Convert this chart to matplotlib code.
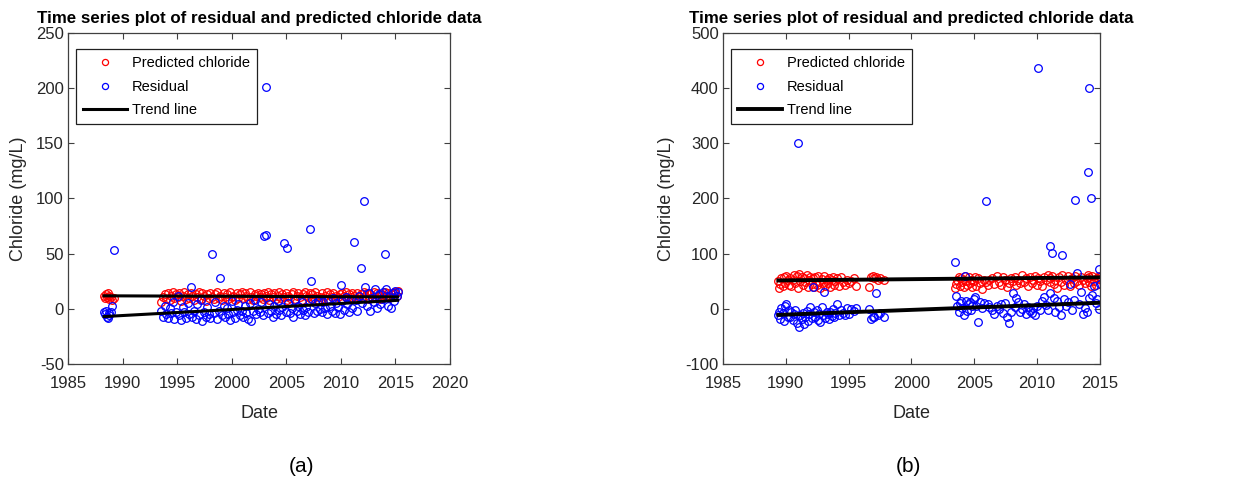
import matplotlib
matplotlib.use('Agg')
import matplotlib.pyplot as plt

plt.rcParams['font.family'] = ['Liberation Sans', 'DejaVu Sans']
plt.rcParams['axes.unicode_minus'] = False

TITLE = 'Time series plot of residual and predicted chloride data'

# ---- panel (a) ----
dates_a = [1988.30, 1988.38, 1988.46, 1988.55, 1988.63, 1988.72, 1988.80, 1988.90, 1989.05, 1989.20,
           1993.55, 1993.70, 1993.85, 1994.00, 1994.15, 1994.30, 1994.45, 1994.60, 1994.75, 1994.90,
           1995.05, 1995.20, 1995.35, 1995.50, 1995.65, 1995.80, 1995.95, 1996.10, 1996.25, 1996.40,
           1996.55, 1996.70, 1996.85, 1997.00, 1997.15, 1997.30, 1997.45, 1997.60, 1997.75, 1997.90,
           1998.05, 1998.20, 1998.35, 1998.50, 1998.65, 1998.80, 1998.95, 1999.10, 1999.25, 1999.40,
           1999.55, 1999.70, 1999.85, 2000.00, 2000.15, 2000.30, 2000.45, 2000.60, 2000.75, 2000.90,
           2001.05, 2001.20, 2001.35, 2001.50, 2001.65, 2001.80, 2001.95, 2002.10, 2002.25, 2002.40,
           2002.55, 2002.70, 2002.85, 2003.00, 2003.10, 2003.15, 2003.30, 2003.45, 2003.60, 2003.75,
           2003.90, 2004.05, 2004.20, 2004.35, 2004.50, 2004.65, 2004.80, 2004.95, 2005.05, 2005.20,
           2005.35, 2005.50, 2005.65, 2005.80, 2005.95, 2006.10, 2006.25, 2006.40, 2006.55, 2006.70,
           2006.85, 2007.00, 2007.15, 2007.22, 2007.35, 2007.50, 2007.65, 2007.80, 2007.95, 2008.10,
           2008.25, 2008.40, 2008.55, 2008.70, 2008.85, 2009.00, 2009.15, 2009.30, 2009.45, 2009.60,
           2009.75, 2009.90, 2010.00, 2010.15, 2010.30, 2010.45, 2010.60, 2010.75, 2010.90, 2011.05,
           2011.20, 2011.35, 2011.50, 2011.65, 2011.80, 2011.95, 2012.10, 2012.25, 2012.40, 2012.55,
           2012.70, 2012.85, 2013.00, 2013.15, 2013.30, 2013.45, 2013.60, 2013.75, 2013.90, 2014.05,
           2014.15, 2014.30, 2014.45, 2014.60, 2014.75, 2014.90, 2015.00, 2015.10, 2015.20]
pred_a = [12, 10, 13, 11, 14, 9, 12, 11, 8, 10,
          6, 11, 13, 9, 14, 8, 12, 15, 10, 13,
          11, 14, 7, 12, 15, 9, 13, 10, 14, 12,
          8, 13, 11, 15, 9, 14, 12, 7, 13, 10,
          14, 11, 9, 13, 15, 10, 12, 8, 14, 11,
          13, 9, 15, 11, 12, 8, 14, 10, 13, 15,
          10, 14, 12, 9, 15, 11, 8, 13, 12, 14,
          11, 13, 9, 14, 12, 10, 15, 8, 13, 11,
          14, 9, 12, 15, 10, 13, 11, 14, 8, 12,
          10, 13, 15, 9, 12, 14, 11, 8, 13, 15,
          12, 11, 14, 9, 13, 10, 15, 12, 8, 11,
          14, 10, 12, 15, 9, 13, 11, 14, 8, 12,
          11, 13, 9, 14, 12, 15, 10, 13, 11, 14,
          12, 9, 14, 11, 13, 10, 15, 12, 14, 9,
          13, 11, 15, 10, 14, 12, 9, 13, 11, 15,
          12, 14, 10, 13, 11, 15, 14, 12, 16]
resid_a = [-3, -5, -2, -7, -8, -4, -6, -3, 3, 53,
           -2, -7, 3, -5, -8, 1, -4, 6, -9, -3,
           12, -6, -10, 2, -3, -8, 5, -5, 20, -7,
           -2, -9, 4, -6, 8, -11, -3, -7, 2, -5,
           -8, 50, -4, 6, -9, -2, 28, -6, 3, -7,
           1, -5, -10, 7, -3, -8, -1, 4, -6, -2,
           -7, 3, -4, -9, 5, -11, -2, 8, -5, 0,
           -3, 6, -6, 66, 201, 67, -4, 4, -2, -7,
           3, -5, 7, -1, -6, 2, 60, -3, 55, 5,
           -4, 1, -7, 8, -2, 3, -5, 6, -1, -6,
           2, -3, 72, 25, 9, -4, 5, -2, 7, 0,
           -3, 6, 1, -5, 8, 3, -2, 10, -4, 5,
           2, -5, 22, 7, -1, 11, 4, -3, 9, 1,
           61, 8, -2, 12, 37, 5, 98, 20, 3, 14,
           -2, 10, 6, 18, 1, 13, 4, 9, 15, 50,
           18, 3, 11, 1, 14, 7, 16, 12, 15]
trend_x_a = [1988.3, 2015.2]
trend_pred_a = [11.8, 10.8]
trend_resid_a = [-7.0, 7.7]

# ---- panel (b) ----
dates_b = [1989.35, 1989.45, 1989.55, 1989.65, 1989.75, 1989.85, 1989.95, 1990.05, 1990.15, 1990.25,
           1990.35, 1990.45, 1990.55, 1990.65, 1990.75, 1990.85, 1990.95, 1991.05, 1991.15, 1991.25,
           1991.35, 1991.45, 1991.55, 1991.65, 1991.75, 1991.85, 1991.95, 1992.05, 1992.15, 1992.25,
           1992.35, 1992.45, 1992.55, 1992.65, 1992.75, 1992.85, 1992.95, 1993.05, 1993.15, 1993.25,
           1993.35, 1993.45, 1993.55, 1993.65, 1993.75, 1993.85, 1993.95, 1994.10, 1994.25, 1994.40,
           1994.55, 1994.70, 1994.85, 1995.00, 1995.20, 1995.40, 1995.60, 1996.60, 1996.75, 1996.90,
           1997.05, 1997.20, 1997.35, 1997.50, 1997.85, 2003.45, 2003.55, 2003.65, 2003.75, 2003.85,
           2003.95, 2004.05, 2004.15, 2004.25, 2004.35, 2004.45, 2004.55, 2004.65, 2004.75, 2004.85,
           2004.95, 2005.05, 2005.15, 2005.30, 2005.45, 2005.60, 2005.75, 2005.90, 2006.05, 2006.20,
           2006.40, 2006.60, 2006.80, 2007.00, 2007.15, 2007.30, 2007.45, 2007.60, 2007.75, 2007.90,
           2008.05, 2008.20, 2008.35, 2008.50, 2008.65, 2008.80, 2008.95, 2009.10, 2009.25, 2009.40,
           2009.55, 2009.70, 2009.85, 2010.00, 2010.10, 2010.25, 2010.40, 2010.55, 2010.70, 2010.85,
           2011.00, 2011.05, 2011.15, 2011.30, 2011.45, 2011.60, 2011.75, 2011.90, 2012.00, 2012.15,
           2012.30, 2012.45, 2012.60, 2012.75, 2012.90, 2013.05, 2013.20, 2013.35, 2013.50, 2013.65,
           2013.80, 2013.95, 2014.05, 2014.10, 2014.15, 2014.25, 2014.35, 2014.50, 2014.65, 2014.80,
           2014.90, 2014.95, 2015.00]
pred_b = [50, 38, 45, 55, 42, 58, 47, 60, 52, 44,
          56, 41, 53, 62, 46, 59, 38, 64, 50, 57,
          43, 55, 48, 61, 39, 52, 58, 45, 56, 40,
          57, 44, 60, 49, 38, 54, 47, 59, 42, 53,
          46, 56, 40, 52, 58, 43, 50, 55, 41, 57,
          48, 44, 53, 47, 51, 55, 42, 40, 57, 60,
          55, 58, 52, 56, 52, 38, 45, 52, 58, 42,
          55, 48, 40, 60, 51, 44, 57, 46, 53, 39,
          50, 58, 42, 55, 47, 36, 53, 48, 44, 52,
          56, 45, 60, 48, 43, 58, 52, 40, 47, 55,
          50, 57, 44, 53, 46, 61, 49, 55, 42, 58,
          47, 52, 59, 44, 56, 50, 41, 57, 53, 62,
          48, 55, 60, 45, 52, 38, 57, 49, 62, 44,
          53, 59, 41, 56, 47, 60, 50, 43, 58, 52,
          46, 55, 62, 49, 57, 42, 59, 51, 44, 56,
          60, 54, 57]
resid_b = [-12, -5, -18, 2, -8, -22, 5, 8, -14, -3,
           -15, -6, -20, -10, -2, -25, 300, -33, -12, -18,
           -8, -27, -15, -4, -22, -10, 3, -17, 40, -6,
           -14, -2, -20, -9, -23, 4, -12, 30, -16, -5,
           -10, -18, -6, -13, -1, -15, -8, 8, -11, -3,
           -7, -12, 2, -9, 0, -4, 1, -1, -18, -14,
           -15, 28, -12, -8, -15, 85, 24, 5, -6, 10,
           14, 2, -12, 60, 15, -4, 8, 12, -2, 6,
           18, 22, 5, -23, 12, 1, 10, 195, 8, 3,
           -3, -10, 6, 0, 8, -7, 10, -14, -25, -5,
           28, 4, 20, 12, -6, -1, 8, -10, 3, -4,
           -8, 2, -12, 6, 437, -3, 15, 22, 7, -2,
           28, 113, 102, 20, -5, 14, 3, -12, 97, 18,
           5, 12, 45, -2, 16, 198, 65, 8, 30, -10,
           2, -5, 248, 20, 400, 200, 25, 42, 10, 18,
           0, 72, 45]
trend_x_b = [1989.4, 2015.0]
trend_pred_b = [51.5, 57.0]
trend_resid_b = [-11.0, 11.0]

x_ticks_a = [1985, 1990, 1995, 2000, 2005, 2010, 2015, 2020]
y_ticks_a = [-50, 0, 50, 100, 150, 200, 250]
x_ticks_b = [1985, 1990, 1995, 2000, 2005, 2010, 2015]
y_ticks_b = [-100, 0, 100, 200, 300, 400, 500]

W, H = 1241, 487
fig = plt.figure(figsize=(W / 100, H / 100), dpi=100)

panels = [
    (dict(rect=[68 / W, 123 / H, 382 / W, 331 / H], ylab_x=-0.107, lw=2.2),
     dates_a, pred_a, resid_a, trend_x_a, trend_pred_a, trend_resid_a, x_ticks_a, y_ticks_a),
    (dict(rect=[723 / W, 123 / H, 377 / W, 331 / H], ylab_x=-0.127, lw=2.8),
     dates_b, pred_b, resid_b, trend_x_b, trend_pred_b, trend_resid_b, x_ticks_b, y_ticks_b),
]

edge = '#404040'
for opt, dates, pred, resid, tx, tp, tr, xt, yt in panels:
    ax = fig.add_axes(opt['rect'])
    ax.plot(dates, pred, 'o', mfc='none', mec='red', ms=5.5, mew=0.9,
            label='Predicted chloride')
    ax.plot(dates, resid, 'o', mfc='none', mec='blue', ms=5.5, mew=0.9,
            label='Residual')
    ax.plot(tx, tp, '-', color='black', lw=opt['lw'], label='Trend line')
    ax.plot(tx, tr, '-', color='black', lw=opt['lw'])

    ax.set_xlim(xt[0], xt[-1])
    ax.set_ylim(yt[0], yt[-1])
    ax.set_xticks(xt)
    ax.set_yticks(yt)
    ax.tick_params(direction='in', top=True, right=True, length=4, width=0.8,
                   color=edge, labelcolor='#262626', labelsize=12, pad=3)
    ax.tick_params(axis='x', pad=9)
    for s in ax.spines.values():
        s.set_color(edge)
        s.set_linewidth(0.9)

    ax.set_title(TITLE, fontsize=12.2, fontweight='bold', pad=7)
    ax.set_xlabel('Date', fontsize=13, color='#262626')
    ax.xaxis.set_label_coords(0.5, -0.125)
    ax.set_ylabel('Chloride (mg/L)', fontsize=13, color='#262626')
    ax.yaxis.set_label_coords(opt['ylab_x'], 0.5)

    leg = ax.legend(loc='upper left', bbox_to_anchor=(0.021, 0.952), borderaxespad=0,
                    fontsize=10.5, fancybox=False, framealpha=1, edgecolor='#202020',
                    handlelength=3.0, handletextpad=0.35, labelspacing=0.65,
                    borderpad=0.5, markerscale=0.8)
    leg.get_frame().set_linewidth(0.9)

fig.text(302 / W, 1 - 467 / H, '(a)', fontsize=15, ha='center', va='center')
fig.text(908 / W, 1 - 467 / H, '(b)', fontsize=15, ha='center', va='center')

fig.savefig('out.png', dpi=100)
